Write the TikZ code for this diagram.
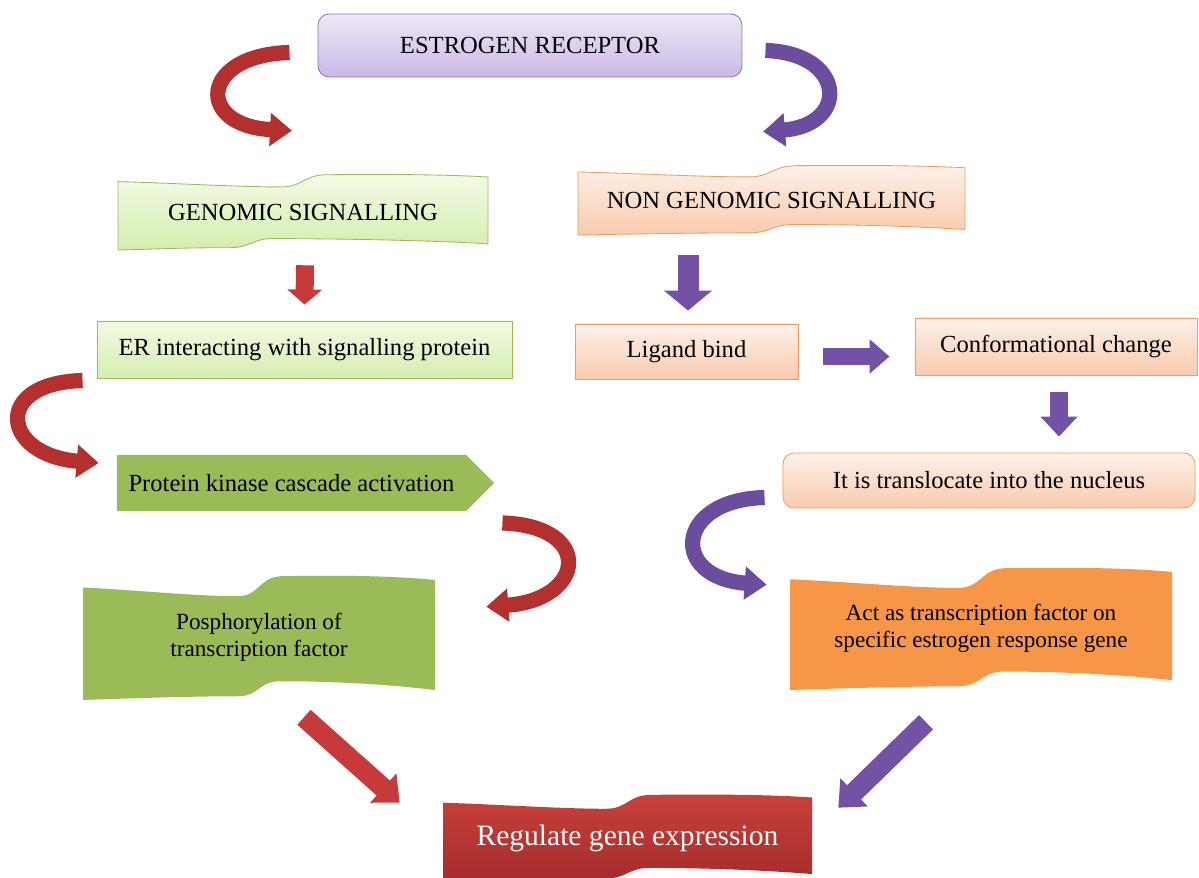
\documentclass[tikz,border=0pt]{standalone}
\usepackage{fontspec}
\setmainfont{Liberation Serif}
\usetikzlibrary{arrows.meta,calc,shapes.symbols}

\definecolor{lilacTop}{HTML}{EEE8F7}
\definecolor{lilacBot}{HTML}{C9B9E5}
\definecolor{lilacLine}{HTML}{8E7BB8}
\definecolor{mintTop}{HTML}{F3FBE6}
\definecolor{mintBot}{HTML}{D4EDAE}
\definecolor{mintLine}{HTML}{9BBB59}
\definecolor{peachTop}{HTML}{FDF1EA}
\definecolor{peachBot}{HTML}{F9CBAE}
\definecolor{peachLine}{HTML}{EE9D5E}
\definecolor{olive}{HTML}{9BBB59}
\definecolor{tangerine}{HTML}{F79646}
\definecolor{regTop}{HTML}{C9403B}
\definecolor{regBot}{HTML}{A52C2C}
\definecolor{ribbonRed}{HTML}{B3302E}
\definecolor{ribbonPurple}{HTML}{6B4C9E}
\definecolor{blockRed}{HTML}{C63B3A}
\definecolor{blockPurple}{HTML}{7352A5}

% wavy banner: [bottom notch], style, left, top, right, bottom (in px)
\newcommand{\wavebox}[6][0.5]{%
  \pgfmathsetmacro\wW{#5-#3}%
  \pgfmathsetmacro\wH{#6-#4}%
  \pgfmathsetmacro\wA{#3+(#1+.06)*\wW}%
  \pgfmathsetmacro\wB{#3+(#1-.06)*\wW}%
  \pgfmathsetmacro\wC{#3+#1*\wW}%
  \path[#2] (#3,#4+.10*\wH)
    .. controls (#3+.15*\wW,#4+.12*\wH) and (#3+.32*\wW,#4+.17*\wH) .. (#3+.44*\wW,#4+.17*\wH)
    .. controls (#3+.5*\wW,#4+.17*\wH) and (#3+.5*\wW,#4+.02*\wH) .. (#3+.56*\wW,#4+.01*\wH)
    .. controls (#3+.75*\wW,#4) and (#3+.9*\wW,#4+.01*\wH) .. (#5,#4+.04*\wH)
    -- (#5,#4+.92*\wH)
    .. controls (#3+.85*\wW,#4+.87*\wH) and (\wA+.14*\wW,#4+.85*\wH) .. (\wA,#4+.85*\wH)
    .. controls (\wC,#4+.85*\wH) and (\wC,#4+.97*\wH) .. (\wB,#4+.97*\wH)
    .. controls (\wB-.14*\wW,#4+.97*\wH) and (#3+.1*\wW,#4+.99*\wH) .. (#3,#4+\wH)
    -- cycle;}

\begin{document}
\begin{tikzpicture}[
    x=0.025cm, y=-0.025cm,
    font=\fontsize{17.5}{21}\selectfont,
    lilacbox/.style={
        rectangle,rounded corners=8pt,draw=lilacLine,semithick,
        top color=lilacTop,bottom color=lilacBot,
        minimum width=10.6cm,minimum height=1.575cm
    },
    mintbox/.style={
        rectangle,draw=mintLine,semithick,
        top color=mintTop,bottom color=mintBot,
        minimum height=1.425cm
    },
    peachbox/.style={
        rectangle,draw=peachLine,semithick,
        top color=peachTop,bottom color=peachBot,
        minimum height=1.375cm
    },
    wavetext/.style={align=center,inner sep=0pt},
    twoline/.style={wavetext,font=\fontsize{16.5}{19}\selectfont},
    ribbon/.style={line width=0.38cm,-{Triangle[width=0.8cm,length=0.55cm]}},
    block/.style n args={3}{line width=#1,-{Triangle[width=#2,length=#3]}}
    ]
    \useasboundingbox (0,0) rectangle (1199,878);

    % banners
    \wavebox[0.36]{draw=mintLine,semithick,top color=mintTop,bottom color=mintBot}{118}{174}{488}{250}
    \wavebox{draw=peachLine,semithick,top color=peachTop,bottom color=peachBot}{578}{165}{965}{235}
    \wavebox{fill=olive}{83}{575}{435}{700}
    \wavebox{fill=tangerine}{790}{567}{1172}{690}
    \wavebox{top color=regTop,bottom color=regBot}{443}{794}{812}{881}

    \node[lilacbox] (er) at (530,45.5) {ESTROGEN RECEPTOR};

    \node[wavetext,minimum width=9.25cm,minimum height=1.9cm] (gen) at (303,212)
    {GENOMIC SIGNALLING};

    \node[wavetext,minimum width=9.675cm,minimum height=1.75cm] (ngs) at (771.5,200)
    {NON GENOMIC SIGNALLING};

    \node[mintbox,minimum width=10.375cm] (eri) at (304.5,349.5)
    {ER interacting with signalling protein};

    \node[peachbox,minimum width=5.575cm] (lig) at (686.5,351.5) {Ligand bind};

    \node[peachbox,minimum width=7.05cm,minimum height=1.425cm] (con) at (1056,346.5)
    {Conformational change};

    \node[peachbox,rounded corners=8pt,minimum width=10.3cm] (tra) at (989,480.5)
    {It is translocate into the nucleus};

    \node[signal,signal to=east,fill=olive,minimum width=9.425cm,minimum height=1.4cm,
    inner sep=0pt] (pka) at (291.5,483) {Protein kinase cascade activation};

    \node[twoline,minimum width=8.8cm,minimum height=3.125cm] (pho) at (259,637.5)
    {Posphorylation of\\transcription factor};

    \node[twoline,minimum width=9.55cm,minimum height=3.075cm] (act) at (981,628.5)
    {Act as transcription factor on\\specific estrogen response gene};

    \node[wavetext,text=white,font=\fontsize{21}{25}\selectfont,
    minimum width=9.225cm,minimum height=2.075cm] (reg) at (627.5,838)
    {Regulate gene expression};

    % curved arrows
    \draw[ribbon,ribbonRed] ($(er.west)+(-28,7)$)
    .. controls +(-90,2.5) and +(-97,-5) .. ($(gen.north)+(-11,-43)$);
    \draw[ribbon,ribbonPurple] ($(er.east)+(23,5)$)
    .. controls +(80,2.5) and +(87,-7) .. ($(ngs.north)+(-8.5,-33)$);
    \draw[ribbon,ribbonRed] ($(eri.west)+(-14,31)$)
    .. controls +(-91,2.5) and +(-97,-8) .. ($(pka.west)+(-18,-20)$);
    \draw[ribbon,ribbonRed] ($(pka.east)+(8,40)$)
    .. controls +(92,3) and +(99,-7) .. ($(pho.north east)+(51,32)$);
    \draw[ribbon,ribbonPurple] ($(tra.west)+(-18,17)$)
    .. controls +(-90,2.5) and +(-97,-7) .. ($(act.north west)+(-23,18)$);

    % straight arrows
    \draw[blockRed,block={0.45cm}{0.85cm}{0.375cm}]
    ($(gen.south)+(2,15)$) -- ($(eri.north)+(0,-16)$);
    \draw[blockPurple,block={0.525cm}{1.175cm}{0.5cm}]
    ($(lig.north |- ngs.south)+(1.5,20)$) -- ($(lig.north)+(1.5,-13)$);
    \draw[blockPurple,block={0.43cm}{0.83cm}{0.5cm}]
    ($(lig.east)+(25,5)$) -- ($(con.west)+(-25,10)$);
    \draw[blockPurple,block={0.45cm}{0.9cm}{0.5cm}]
    ($(con.south)+(3,17)$) -- ($(tra.north -| con.south)+(3,-16)$);
    \draw[blockRed,block={0.5cm}{0.95cm}{0.55cm}]
    ($(pho.south)+(45,17)$) -- ($(reg.north west)+(-43,6.5)$);
    \draw[blockPurple,block={0.5cm}{0.95cm}{0.55cm}]
    ($(act.south)+(-55,32)$) -- ($(reg.north east)+(26,11.5)$);

\end{tikzpicture}
\end{document}
